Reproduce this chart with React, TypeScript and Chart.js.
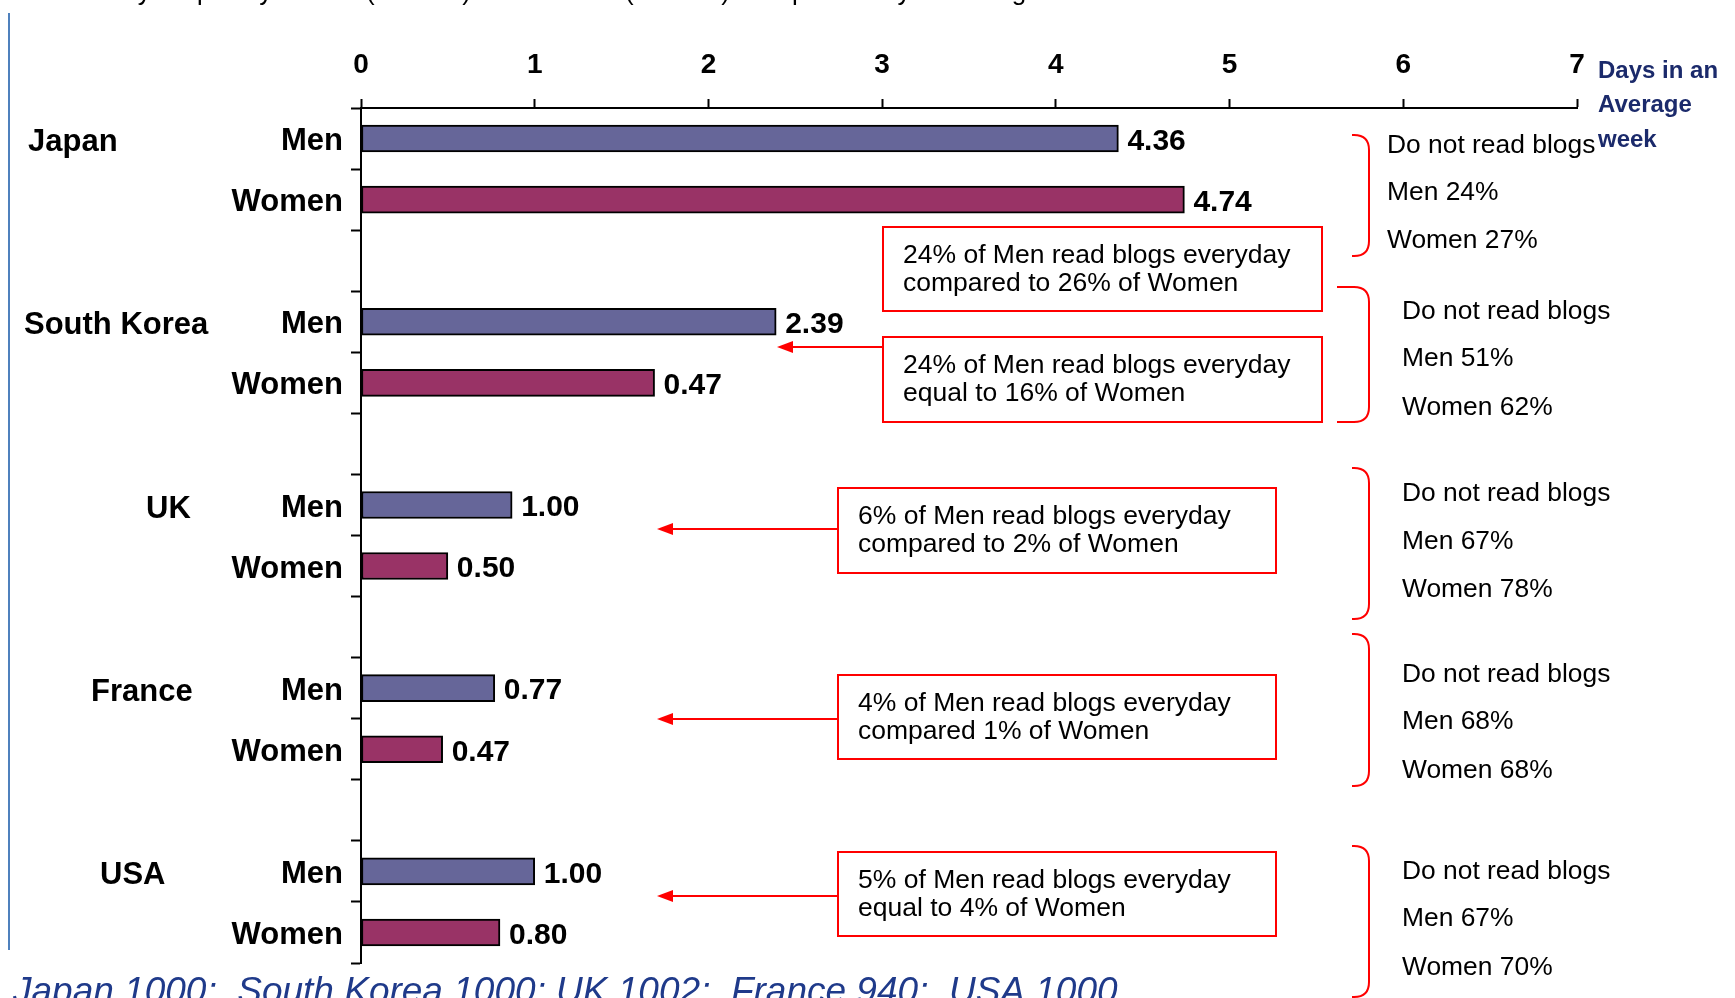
import React, { useEffect, useRef } from 'react';
import { Chart, registerables } from 'chart.js';

Chart.register(...registerables);

// ---------- data ----------
const COUNTRIES = ['Japan', 'South Korea', 'UK', 'France', 'USA'];
const GENDERS = ['Men', 'Women'];
// bar lengths as drawn (days per average week)
const MEN_DAYS = [4.36, 2.39, 0.87, 0.77, 1.0];
const WOMEN_DAYS = [4.74, 1.69, 0.5, 0.47, 0.8];
// value labels as printed next to the bars
const MEN_LABELS = ['4.36', '2.39', '1.00', '0.77', '1.00'];
const WOMEN_LABELS = ['4.74', '0.47', '0.50', '0.47', '0.80'];
const X_TICKS = [0, 1, 2, 3, 4, 5, 6, 7];
const NOT_READ_TITLE = 'Do not read blogs';
const NOT_READ_MEN = ['24%', '51%', '67%', '68%', '67%'];
const NOT_READ_WOMEN = ['27%', '62%', '78%', '68%', '70%'];
const CALLOUTS = [
  ['24% of Men read blogs everyday', 'compared to 26% of Women'],
  ['24% of Men read blogs everyday', 'equal to 16% of Women'],
  ['6% of Men read blogs everyday', 'compared to 2% of Women'],
  ['4% of Men read blogs everyday', 'compared 1% of Women'],
  ['5% of Men read blogs everyday', 'equal to 4% of Women'],
];
const UNIT_LINES = ['Days in an', 'Average', 'week'];
const TITLE = 'Weekly frequency of Men (n=1000) and Women (n=1000) who personally read blogs';
const SAMPLE_SIZES = 'Japan 1000;  South Korea 1000; UK 1002;  France 940;  USA 1000';

// ---------- layout (pixels) ----------
const W = 1735;
const H = 998;
const FONT = '"Liberation Sans", Arial, Helvetica, sans-serif';
const NAVY = '#1b2a6b';
const FOOT_BLUE = '#1f3a8a';
const RED = '#ff0000';
const COUNTRY_X = [28, 24, 146, 91, 100];
const BOXES = [
  { x: 883, y: 227, w: 439, h: 84, arrowY: -1, tip: 0 },
  { x: 883, y: 337, w: 439, h: 85, arrowY: 347, tip: 777 },
  { x: 838, y: 488, w: 438, h: 85, arrowY: 529, tip: 657 },
  { x: 838, y: 675, w: 438, h: 84, arrowY: 719, tip: 657 },
  { x: 838, y: 852, w: 438, h: 84, arrowY: 896, tip: 657 },
];
const NOTES = [
  { tx: 1387, ys: [146, 193, 241], xl: 1352, xr: 1369, yt: 135, yb: 256 },
  { tx: 1402, ys: [312, 359, 408], xl: 1337, xr: 1369, yt: 287, yb: 422 },
  { tx: 1402, ys: [494, 542, 590], xl: 1352, xr: 1369, yt: 468, yb: 619 },
  { tx: 1402, ys: [675, 722, 771], xl: 1352, xr: 1369, yt: 634, yb: 786 },
  { tx: 1402, ys: [872, 919, 968], xl: 1352, xr: 1369, yt: 846, yb: 997 },
];

// build 14 category slots: Men, Women, gap, ...
const SLOT_LABELS: string[] = [];
const MEN_DATA: (number | null)[] = [];
const WOMEN_DATA: (number | null)[] = [];
const SLOT_TEXT: (string | null)[] = [];
const COUNTRY_SLOT: number[] = [];
COUNTRIES.forEach((c, i) => {
  COUNTRY_SLOT.push(SLOT_LABELS.length);
  SLOT_LABELS.push(GENDERS[0]);
  MEN_DATA.push(MEN_DAYS[i]);
  WOMEN_DATA.push(null);
  SLOT_TEXT.push(MEN_LABELS[i]);
  SLOT_LABELS.push(GENDERS[1]);
  MEN_DATA.push(null);
  WOMEN_DATA.push(WOMEN_DAYS[i]);
  SLOT_TEXT.push(WOMEN_LABELS[i]);
  if (i < COUNTRIES.length - 1) {
    SLOT_LABELS.push('');
    MEN_DATA.push(null);
    WOMEN_DATA.push(null);
    SLOT_TEXT.push(null);
  }
});

function drawBracket(ctx: CanvasRenderingContext2D, xl: number, xr: number, yt: number, yb: number) {
  const r = 15;
  ctx.beginPath();
  ctx.moveTo(xl, yt);
  ctx.lineTo(xr - r, yt);
  ctx.quadraticCurveTo(xr, yt, xr, yt + r);
  ctx.lineTo(xr, yb - r);
  ctx.quadraticCurveTo(xr, yb, xr - r, yb);
  ctx.lineTo(xl, yb);
  ctx.stroke();
}

const decorPlugin = {
  id: 'decor',
  afterDraw(chart: any) {
    const ctx: CanvasRenderingContext2D = chart.ctx;
    const yScale = chart.scales.y;
    ctx.save();

    // left blue rule
    ctx.strokeStyle = '#4f81bd';
    ctx.lineWidth = 2;
    ctx.beginPath();
    ctx.moveTo(9, 13);
    ctx.lineTo(9, 950);
    ctx.stroke();

    // clipped title at top
    ctx.fillStyle = '#000';
    ctx.font = `26px ${FONT}`;
    ctx.textBaseline = 'alphabetic';
    ctx.textAlign = 'left';
    ctx.fillText(TITLE, 66, 0);

    // value labels
    ctx.font = `bold 30px ${FONT}`;
    ctx.textBaseline = 'middle';
    chart.data.datasets.forEach((ds: any, di: number) => {
      const meta = chart.getDatasetMeta(di);
      meta.data.forEach((el: any, idx: number) => {
        if (ds.data[idx] == null) return;
        const t = SLOT_TEXT[idx];
        if (t) ctx.fillText(t, el.x + 9, el.y + 3);
      });
    });

    // country labels
    ctx.font = `bold 31px ${FONT}`;
    COUNTRIES.forEach((c, i) => {
      const y = yScale.getPixelForValue(COUNTRY_SLOT[i]);
      ctx.fillText(c, COUNTRY_X[i], y + 4);
    });

    // unit label
    ctx.fillStyle = NAVY;
    ctx.font = `bold 24px ${FONT}`;
    [71, 105, 140].forEach((y, i) => ctx.fillText(UNIT_LINES[i], 1598, y));

    // callout boxes + arrows
    ctx.strokeStyle = RED;
    ctx.fillStyle = RED;
    ctx.lineWidth = 2;
    BOXES.forEach((b) => {
      ctx.strokeRect(b.x, b.y, b.w, b.h);
      if (b.arrowY > 0) {
        ctx.beginPath();
        ctx.moveTo(b.x, b.arrowY);
        ctx.lineTo(b.tip + 12, b.arrowY);
        ctx.stroke();
        ctx.beginPath();
        ctx.moveTo(b.tip, b.arrowY);
        ctx.lineTo(b.tip + 16, b.arrowY - 6);
        ctx.lineTo(b.tip + 16, b.arrowY + 6);
        ctx.closePath();
        ctx.fill();
      }
    });
    ctx.fillStyle = '#000';
    ctx.font = `26.5px ${FONT}`;
    BOXES.forEach((b, i) => {
      ctx.fillText(CALLOUTS[i][0], b.x + 20, b.y + 29);
      ctx.fillText(CALLOUTS[i][1], b.x + 20, b.y + 57);
    });

    // right-hand notes with brackets
    NOTES.forEach((n, i) => {
      ctx.strokeStyle = RED;
      ctx.lineWidth = 2;
      drawBracket(ctx, n.xl, n.xr, n.yt, n.yb);
      ctx.fillStyle = '#000';
      ctx.font = `26.4px ${FONT}`;
      ctx.fillText(NOT_READ_TITLE, n.tx, n.ys[0]);
      ctx.fillText(`${GENDERS[0]} ${NOT_READ_MEN[i]}`, n.tx, n.ys[1]);
      ctx.fillText(`${GENDERS[1]} ${NOT_READ_WOMEN[i]}`, n.tx, n.ys[2]);
    });

    // footer sample sizes (clipped at bottom)
    ctx.fillStyle = FOOT_BLUE;
    ctx.font = `italic 37px ${FONT}`;
    ctx.textBaseline = 'alphabetic';
    ctx.fillText(SAMPLE_SIZES, 13, 1003);

    ctx.restore();
  },
};

export default function App() {
  const ref = useRef<HTMLCanvasElement | null>(null);
  useEffect(() => {
    if (!ref.current) return;
    const chart = new Chart(ref.current, {
      type: 'bar',
      data: {
        labels: SLOT_LABELS,
        datasets: [
          {
            label: GENDERS[0],
            data: MEN_DATA,
            backgroundColor: '#666699',
            borderColor: '#000',
            borderWidth: 2,
            borderSkipped: false,
            barThickness: 27,
          },
          {
            label: GENDERS[1],
            data: WOMEN_DATA,
            backgroundColor: '#993366',
            borderColor: '#000',
            borderWidth: 2,
            borderSkipped: false,
            barThickness: 27,
          },
        ],
      } as any,
      options: {
        indexAxis: 'y',
        responsive: false,
        animation: false,
        skipNull: true,
        layout: { padding: { left: 0, top: 0, right: W - 1577, bottom: H - 963 } },
        plugins: {
          legend: { display: false },
          tooltip: { enabled: false },
          title: { display: false },
        },
        scales: {
          x: {
            type: 'linear',
            position: 'top',
            min: X_TICKS[0],
            max: X_TICKS[X_TICKS.length - 1],
            afterFit: (s: any) => {
              s.height = 108;
            },
            ticks: {
              stepSize: 1,
              color: '#000',
              padding: 17,
              font: { family: FONT, size: 28, weight: 'bold' },
            },
            grid: {
              drawOnChartArea: false,
              tickLength: 9,
              tickColor: '#000',
              tickWidth: 2,
            },
            border: { display: true, color: '#000', width: 2 },
          },
          y: {
            type: 'category',
            offset: true,
            afterFit: (s: any) => {
              s.width = 361;
            },
            ticks: {
              color: '#000',
              padding: 8,
              autoSkip: false,
              labelOffset: 3,
              font: { family: FONT, size: 31, weight: 'bold' },
            },
            grid: {
              offset: true,
              drawOnChartArea: false,
              tickLength: 10,
              tickColor: '#000',
              tickWidth: 2,
            },
            border: { display: true, color: '#000', width: 2 },
          },
        },
      } as any,
      plugins: [decorPlugin],
    });
    return () => chart.destroy();
  }, []);

  return (
    <div style={{ position: 'absolute', left: 0, top: 0, width: W, height: H, background: '#fff' }}>
      <canvas ref={ref} width={W} height={H} style={{ display: 'block' }} />
    </div>
  );
}
